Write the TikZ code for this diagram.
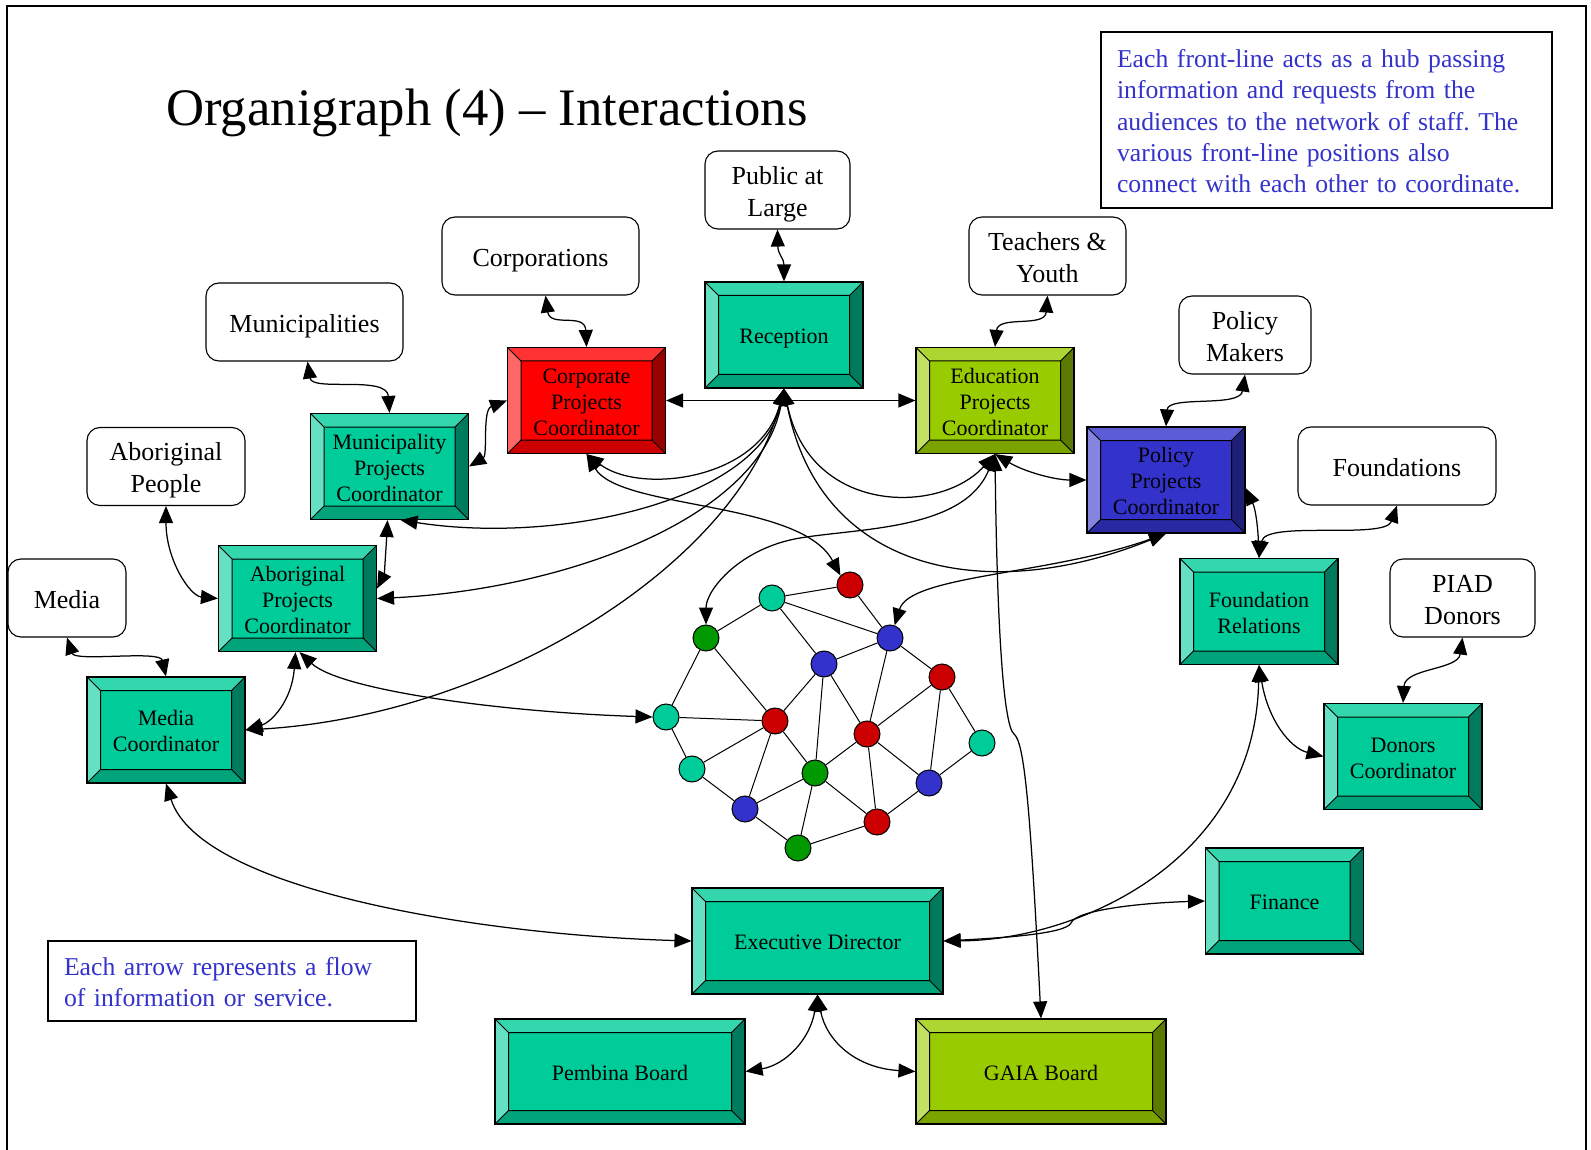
\documentclass[tikz,border=0pt]{standalone}
\usepackage{fontspec}
\setmainfont{Liberation Serif}
\usetikzlibrary{arrows.meta}
\frenchspacing

% bevel shades: base face, top, left, bottom and right rims
\definecolor{tealbase}{RGB}{0,204,153}
\definecolor{tealtop}{RGB}{51,214,173}
\definecolor{tealleft}{RGB}{102,224,194}
\definecolor{tealbottom}{RGB}{0,163,122}
\definecolor{tealright}{RGB}{0,122,92}
\definecolor{redbase}{RGB}{255,0,0}
\definecolor{redtop}{RGB}{255,51,51}
\definecolor{redleft}{RGB}{255,102,102}
\definecolor{redbottom}{RGB}{204,0,0}
\definecolor{redright}{RGB}{153,0,0}
\definecolor{limebase}{RGB}{153,204,0}
\definecolor{limetop}{RGB}{173,214,51}
\definecolor{limeleft}{RGB}{194,224,102}
\definecolor{limebottom}{RGB}{122,163,0}
\definecolor{limeright}{RGB}{92,122,0}
\definecolor{bluebase}{RGB}{51,51,204}
\definecolor{bluetop}{RGB}{92,92,214}
\definecolor{blueleft}{RGB}{133,133,224}
\definecolor{bluebottom}{RGB}{41,41,163}
\definecolor{blueright}{RGB}{31,31,122}
% staff network dots
\definecolor{dotteal}{RGB}{0,204,153}
\definecolor{dotred}{RGB}{204,0,0}
\definecolor{dotgreen}{RGB}{0,153,0}
\definecolor{dotblue}{RGB}{51,51,204}
\definecolor{notetext}{RGB}{51,51,204}

\tikzset{
  % full line boxes for vertical centring; \fstrut opens the first of several lines
  linestruts/.style 2 args={
    execute at begin node={\def\fstrut{\rule{0pt}{#1}}\rule{0pt}{#1}},
    execute at end node={\rule[-#2]{0pt}{#2}}},
  bevelbox/.style={
    rectangle, draw=black, line width=1.1pt, inner sep=0pt, align=center,
    font=\fontsize{22}{26}\selectfont, text=black, linestruts={22pt}{4.75pt},
    minimum width=158pt, minimum height=106pt,
    fill=#1base,
    path picture={
      \coordinate (bvnw) at (path picture bounding box.north west);
      \coordinate (bvne) at (path picture bounding box.north east);
      \coordinate (bvsw) at (path picture bounding box.south west);
      \coordinate (bvse) at (path picture bounding box.south east);
      \coordinate (ivnw) at ([shift={(13.5pt,-13.5pt)}]bvnw);
      \coordinate (ivne) at ([shift={(-13.5pt,-13.5pt)}]bvne);
      \coordinate (ivsw) at ([shift={(13.5pt,13.5pt)}]bvsw);
      \coordinate (ivse) at ([shift={(-13.5pt,13.5pt)}]bvse);
      \fill[#1top] (bvnw) -- (bvne) -- (ivne) -- (ivnw) -- cycle;
      \fill[#1left] (bvnw) -- (ivnw) -- (ivsw) -- (bvsw) -- cycle;
      \fill[#1bottom] (bvsw) -- (ivsw) -- (ivse) -- (bvse) -- cycle;
      \fill[#1right] (bvne) -- (bvse) -- (ivse) -- (ivne) -- cycle;
      \draw[line width=1pt] (ivnw) rectangle (ivse)
        (bvnw) -- (ivnw) (bvne) -- (ivne) (bvsw) -- (ivsw) (bvse) -- (ivse);
    }
  },
  audbox/.style={rectangle, draw=black, line width=1.1pt, rounded corners=13pt,
    fill=white, inner sep=0pt, align=center, minimum height=78pt,
    font=\fontsize{26}{32}\selectfont, linestruts={26.2pt}{5.6pt}},
  notebox/.style={rectangle, draw=black, line width=1.1pt, inner xsep=16pt,
    inner ysep=0pt, align=left, text=notetext, linestruts={25.7pt}{5.55pt},
    font=\fontsize{25.7}{31.3}\selectfont},
  hubdot/.style={circle, draw=black, line width=1pt, minimum size=26pt,
    inner sep=0pt, fill=#1},
  netlink/.style={line width=1pt},
  biarrow/.style={arrows={Triangle[length=17pt,width=14pt]-Triangle[length=17pt,width=14pt]},
    line width=1.25pt},
}

\begin{document}
\begin{tikzpicture}[x=1pt,y=-1pt]
\useasboundingbox (0,0) rectangle (1591,1150);
\draw[line width=1.3pt] (7,1150) -- (7,6) -- (1586,6) -- (1586,1150);

\node[anchor=base, font=\fontsize{52.7}{62}\selectfont] (title) at (487,126)
  {Organigraph (4) -- Interactions};

% notes
\node[notebox, minimum width=451pt, minimum height=176pt, text width=419pt] (hubnote)
  at (1326.5,120) {\fstrut Each front-line acts as a hub passing\\information and requests from the\\audiences to the network of staff. The\\various front-line positions also\\connect with each other to coordinate.};
\node[notebox, minimum width=368pt, minimum height=80pt, text width=336pt] (flownote)
  at (232,981) {\fstrut Each arrow represents a flow\\of information or service.};

% audiences
\node[audbox, minimum width=145pt] (pub) at (777.5,190) {\fstrut Public at\\Large};
\node[audbox, minimum width=197pt] (crp) at (540.5,256) {Corporations};
\node[audbox, minimum width=197pt] (mnc) at (304.5,322) {Municipalities};
\node[audbox, minimum width=157pt] (tch) at (1047.5,256) {\fstrut Teachers \&\\Youth};
\node[audbox, minimum width=132pt] (pmk) at (1245,335) {\fstrut Policy\\Makers};
\node[audbox, minimum width=198pt] (fdn) at (1397,466) {Foundations};
\node[audbox, minimum width=158pt] (abp) at (166,466.5) {\fstrut Aboriginal\\People};
\node[audbox, minimum width=118pt] (mda) at (67,598) {Media};
\node[audbox, minimum width=145pt] (pia) at (1462.5,598) {\fstrut PIAD\\Donors};

% staff positions
\node[bevelbox=teal] (rec) at (784,335) {Reception};
\node[bevelbox=red] (corp) at (586.5,400.5) {\fstrut Corporate\\Projects\\Coordinator};
\node[bevelbox=lime] (edu) at (995,400.5) {\fstrut Education\\Projects\\Coordinator};
\node[bevelbox=blue] (pol) at (1166,480) {\fstrut Policy\\Projects\\Coordinator};
\node[bevelbox=teal] (mun) at (389.5,466.5) {\fstrut Municipality\\Projects\\Coordinator};
\node[bevelbox=teal] (abo) at (297.5,598.5) {\fstrut Aboriginal\\Projects\\Coordinator};
\node[bevelbox=teal] (med) at (166,730) {\fstrut Media\\Coordinator};
\node[bevelbox=teal] (fnd) at (1259,611.5) {\fstrut Foundation\\Relations};
\node[bevelbox=teal] (don) at (1403,756.5) {\fstrut Donors\\Coordinator};
\node[bevelbox=teal] (fin) at (1284.5,901) {Finance};
\node[bevelbox=teal, minimum width=251pt] (ed) at (817.5,941) {Executive Director};
\node[bevelbox=teal, minimum width=250pt, minimum height=105pt] (pem) at (620,1071.5) {Pembina Board};
\node[bevelbox=lime, minimum width=250pt, minimum height=105pt] (gaia) at (1041,1071.5) {GAIA Board};

% network of staff
\node[hubdot=dotteal] (n1) at (772,598) {};
\node[hubdot=dotred] (n2) at (850,585) {};
\node[hubdot=dotgreen] (n3) at (706,638) {};
\node[hubdot=dotblue] (n4) at (890,638) {};
\node[hubdot=dotblue] (n5) at (824,664) {};
\node[hubdot=dotred] (n6) at (942,677) {};
\node[hubdot=dotteal] (n7) at (666,717) {};
\node[hubdot=dotred] (n8) at (775,721) {};
\node[hubdot=dotred] (n9) at (867,734) {};
\node[hubdot=dotteal] (n10) at (982,743) {};
\node[hubdot=dotteal] (n11) at (692,769) {};
\node[hubdot=dotgreen] (n12) at (815,773) {};
\node[hubdot=dotblue] (n13) at (929,783) {};
\node[hubdot=dotblue] (n14) at (745,809) {};
\node[hubdot=dotred] (n15) at (877,822) {};
\node[hubdot=dotgreen] (n16) at (798,848) {};
\foreach \a/\b in {n1/n2,n1/n3,n1/n4,n1/n5,n2/n4,n3/n7,n3/n8,n4/n5,n4/n6,n4/n9,
  n5/n8,n5/n12,n5/n9,n6/n9,n6/n13,n6/n10,n7/n8,n7/n11,n8/n11,n8/n14,n8/n12,
  n9/n12,n9/n13,n9/n15,n10/n13,n11/n14,n12/n14,n12/n15,n12/n16,n14/n16,
  n16/n15,n15/n13}
  \draw[netlink] (\a) -- (\b);

% audiences to front-line positions
\draw[biarrow] (pub.south) .. controls (778,255) and (784,258) .. (rec.north);
\draw[biarrow] ([xshift=5pt]crp.south) .. controls (550,328) and (585,312) .. (corp.north);
\draw[biarrow] ([xshift=3pt]mnc.south) .. controls (312,392) and (387,375) .. (mun.north);
\draw[biarrow] (tch.south) .. controls (1045,328) and (998,315) .. (edu.north);
\draw[biarrow] (pmk.south) .. controls (1240,408) and (1168,395) .. (pol.north);
\draw[biarrow] (fdn.south) .. controls (1385,540) and (1265,520) .. (fnd.north);
\draw[biarrow] (abp.south) .. controls (166,560) and (190,596) .. (abo.west);
\draw[biarrow] (mda.south) .. controls (75,662) and (160,650) .. (med.north);
\draw[biarrow] (pia.south) .. controls (1458,670) and (1405,668) .. (don.north);

% front-line positions with each other
\draw[biarrow] (mun.east) .. controls (488,455) and (482,410) .. (corp.west);
\draw[biarrow] (corp.east) -- (edu.west);
\draw[biarrow] ([yshift=-8pt]pol.east) .. controls (1256,510) and (1258,530) .. (fnd.north);
\draw[biarrow] ([xshift=-2pt]mun.south) .. controls (386,550) and (384,575) .. ([yshift=10pt]abo.east);
\draw[biarrow] ([xshift=-2pt]abo.south) .. controls (292,700) and (272,722) .. (med.east);

% reception as hub
\draw[biarrow] (corp.south) .. controls (640,495) and (760,480) .. (rec.south);
\draw[biarrow] ([xshift=11pt]mun.south) .. controls (560,545) and (760,500) .. (rec.south);
\draw[biarrow] (abo.east) .. controls (560,590) and (760,520) .. (rec.south);
\draw[biarrow] (med.east) .. controls (500,715) and (740,560) .. (rec.south);
\draw[biarrow] (rec.south) .. controls (810,515) and (940,515) .. (edu.south);
\draw[biarrow] (rec.south) .. controls (820,575) and (990,605) .. (pol.south);

% education coordinator links
\draw[biarrow] (edu.south) .. controls (1025,472) and (1055,480) .. (pol.west);
\draw[biarrow] (edu.south) .. controls (965,530) and (860,528) .. (800,538)
  .. controls (740,548) and (706,590) .. (n3.north);
\draw[biarrow] (edu.south) .. controls (997,620) and (1003,725) .. (1014,734)
  .. controls (1024,742) and (1030,800) .. (gaia.north);

% links into the staff network
\draw[biarrow] (pol.south) .. controls (1050,575) and (910,575) .. (n4.70);
\draw[biarrow] (corp.south) .. controls (620,510) and (800,500) .. (n2.135);
\draw[biarrow] ([xshift=2pt]abo.south) .. controls (340,690) and (500,712) .. (n7.west);

% executive director and boards
\draw[biarrow] (med.south) .. controls (200,890) and (480,935) .. (ed.west);
\draw[biarrow] (ed.east) .. controls (1080,940) and (1255,860) .. (fnd.south);
\draw[biarrow] (ed.east) .. controls (1000,938) and (1066,934) .. (1071,923)
  .. controls (1076,910) and (1140,903) .. (fin.west);
\draw[biarrow] (fnd.south) .. controls (1268,720) and (1290,748) .. (don.west);
\draw[biarrow] (ed.south) .. controls (810,1040) and (785,1065) .. (pem.east);
\draw[biarrow] (ed.south) .. controls (826,1040) and (855,1068) .. (gaia.west);
\end{tikzpicture}
\end{document}
